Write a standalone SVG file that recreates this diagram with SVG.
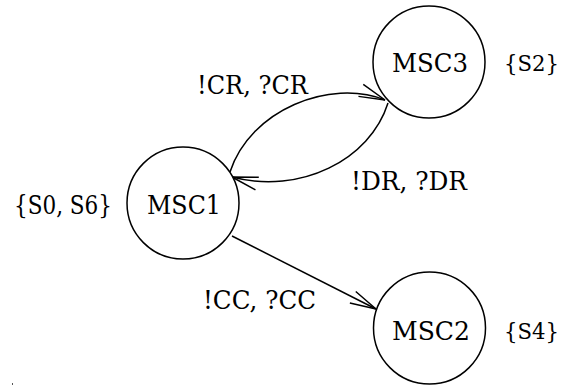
<svg xmlns="http://www.w3.org/2000/svg" width="567" height="387" viewBox="0 0 567 387">
  <style>
    text { font-family: "DejaVu Serif", "Liberation Serif", serif; font-size: 26px; fill: #000; }
    .set { font-size: 23px; }
    .node { fill: #fff; stroke: #000; stroke-width: 1.5; }
    .edge { fill: none; stroke: #000; stroke-width: 1.5; marker-end: url(#open); }
  </style>
  <defs>
    <marker id="open" markerUnits="userSpaceOnUse" viewBox="-28 -8 30 16" refX="0" refY="0" markerWidth="30" markerHeight="16" orient="auto" overflow="visible">
      <path d="M-26,-6.5 L0,0 L-26,6.5" fill="none" stroke="#000" stroke-width="1.5"/>
    </marker>
  </defs>

  <g id="connectors">
    <path class="edge" d="M230,172 C250,110 330,78 385,100"/>
    <path class="edge" d="M388,103 C370,160 300,195 232,177"/>
    <path class="edge" d="M232,236 L376,309"/>
  </g>

  <g id="edge-labels">
    <text x="197" y="94" textLength="111" lengthAdjust="spacingAndGlyphs">!CR, ?CR</text>
    <text x="351" y="190" textLength="116" lengthAdjust="spacingAndGlyphs">!DR, ?DR</text>
    <text x="203" y="309" textLength="113" lengthAdjust="spacingAndGlyphs">!CC, ?CC</text>
  </g>

  <g id="msc1">
    <circle class="node" cx="183" cy="203" r="56"/>
    <text x="147" y="214" textLength="74" lengthAdjust="spacingAndGlyphs">MSC1</text>
    <text x="14" y="214" textLength="98" lengthAdjust="spacingAndGlyphs">{S0, S6}</text>
  </g>

  <g id="msc3">
    <circle class="node" cx="429" cy="62" r="56"/>
    <text x="392" y="72" textLength="76" lengthAdjust="spacingAndGlyphs">MSC3</text>
    <text class="set" x="504" y="71" textLength="55" lengthAdjust="spacingAndGlyphs">{S2}</text>
  </g>

  <g id="msc2">
    <circle class="node" cx="429.5" cy="328" r="56"/>
    <text x="392" y="340" textLength="78" lengthAdjust="spacingAndGlyphs">MSC2</text>
    <text class="set" x="504" y="339" textLength="55" lengthAdjust="spacingAndGlyphs">{S4}</text>
  </g>

  <rect x="12" y="383" width="1" height="2" fill="#555"/>
</svg>
